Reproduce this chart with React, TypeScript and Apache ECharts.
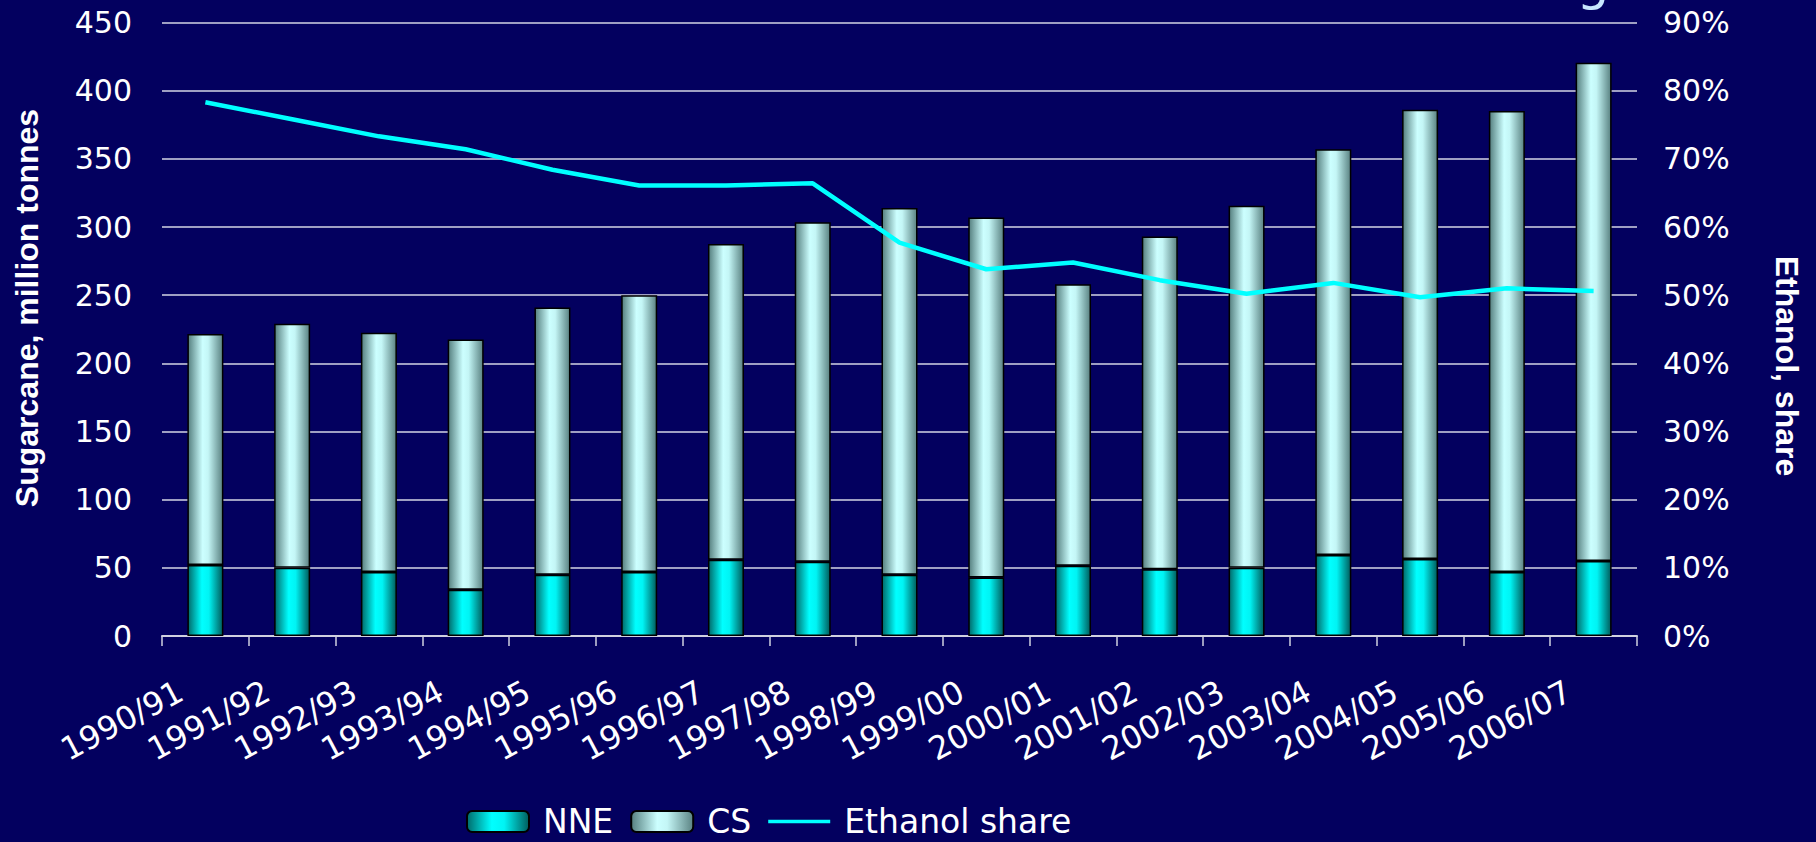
import React, { useEffect, useRef } from "react";
import * as echarts from "echarts";

const categories = [
  "1990/91", "1991/92", "1992/93", "1993/94", "1994/95", "1995/96", "1996/97", "1997/98", "1998/99",
  "1999/00", "2000/01", "2001/02", "2002/03", "2003/04", "2004/05", "2005/06", "2006/07",
];
const nneValues = [52, 50, 47, 34, 45, 47, 56, 54.5, 45, 43, 51.5, 49, 50, 59.5, 56.5, 47, 55];
const csValues = [169.5, 179, 175.5, 183.5, 196, 203, 231.5, 249, 269, 264, 206.5, 244, 265.5, 297.5, 329.5, 338, 365.5];
const ethanolShare = [78.3, 75.8, 73.3, 71.4, 68.4, 66.1, 66.1, 66.4, 57.7, 53.8, 54.8, 52.2, 50.2, 51.8, 49.7, 51.0, 50.6];

const leftTicks = { min: 0, max: 450, interval: 50 };
const rightTicks = { min: 0, max: 90, interval: 10 };

const BG = "#03005f";
const TICK_FONT = "'DejaVu Sans', Verdana, sans-serif";
const NAME_FONT = "bold 32px 'Liberation Sans', Arial, sans-serif";

export default function App() {
  const ref = useRef<HTMLDivElement>(null);
  useEffect(() => {
    if (!ref.current) return;
    const chart = echarts.init(ref.current, undefined, { renderer: "svg" });
    const nneGrad = new echarts.graphic.LinearGradient(0, 0, 1, 0, [
      { offset: 0, color: "#006a6a" },
      { offset: 0.4, color: "#00ffff" },
      { offset: 0.6, color: "#00f4f4" },
      { offset: 1, color: "#005c5c" },
    ]);
    const csGrad = new echarts.graphic.LinearGradient(0, 0, 1, 0, [
      { offset: 0, color: "#557f7f" },
      { offset: 0.42, color: "#ccffff" },
      { offset: 0.58, color: "#c4f6f6" },
      { offset: 1, color: "#5a8282" },
    ]);
    chart.setOption({
      animation: false,
      backgroundColor: BG,
      grid: { left: 162, right: 179, top: 22.5, bottom: 206, containLabel: false },
      legend: {
        left: 461,
        top: 800,
        itemWidth: 62,
        itemHeight: 21,
        itemGap: 17,
        textStyle: { color: "#ffffff", fontSize: 33, fontFamily: TICK_FONT, padding: [0, 0, 0, 9] },
        data: [
          { name: "NNE" },
          { name: "CS" },
          { name: "Ethanol share", icon: "path://M0,0 L68,0 L68,4 L0,4 Z", itemStyle: { color: "#00ffff", borderWidth: 0 } },
        ],
      },
      xAxis: {
        type: "category",
        data: categories,
        boundaryGap: true,
        axisLine: { show: true, lineStyle: { color: "#d0d0e0", width: 2 } },
        axisTick: { show: true, inside: false, length: 10, lineStyle: { color: "#d0d0e0", width: 1.5 } },
        axisLabel: {
          rotate: 28,
          margin: 40,
          color: "#ffffff",
          fontSize: 32,
          fontFamily: TICK_FONT,
          padding: [0, 28, 0, 0],
          interval: 0,
        },
        splitLine: { show: false },
      },
      yAxis: [
        {
          type: "value",
          ...leftTicks,
          axisLine: { show: false },
          axisTick: { show: false },
          axisLabel: { color: "#ffffff", fontSize: 30, fontFamily: TICK_FONT, margin: 30 },
          splitLine: { show: true, lineStyle: { color: "#d4d4e4", width: 1.5 } },
        },
        {
          type: "value",
          ...rightTicks,
          position: "right",
          axisLine: { show: false },
          axisTick: { show: false },
          axisLabel: { color: "#ffffff", fontSize: 30, fontFamily: TICK_FONT, margin: 26, formatter: "{value}%" },
          splitLine: { show: false },
        },
      ],
      series: [
        {
          name: "NNE",
          type: "bar",
          stack: "total",
          data: nneValues,
          barWidth: 36,
          itemStyle: { color: nneGrad, borderColor: "#000000", borderWidth: 1.5 },
        },
        {
          name: "CS",
          type: "bar",
          stack: "total",
          data: csValues,
          barWidth: 36,
          itemStyle: { color: csGrad, borderColor: "#000000", borderWidth: 1.5 },
        },
        {
          name: "Ethanol share",
          type: "line",
          yAxisIndex: 1,
          data: ethanolShare,
          symbol: "none",
          lineStyle: { color: "#00ffff", width: 4.5 },
          itemStyle: { color: "#00ffff" },
          z: 5,
        },
      ],
      graphic: [
        {
          type: "text",
          x: 27,
          y: 308,
          rotation: Math.PI / 2,
          style: {
            text: "Sugarcane, million tonnes",
            fill: "#ffffff",
            font: NAME_FONT,
            align: "center",
            verticalAlign: "middle",
          },
        },
        {
          type: "text",
          x: 1787,
          y: 366,
          rotation: -Math.PI / 2,
          style: {
            text: "Ethanol, share",
            fill: "#ffffff",
            font: NAME_FONT,
            align: "center",
            verticalAlign: "middle",
          },
        },
        {
          type: "text",
          x: 1593,
          y: -45,
          style: {
            text: "g",
            fill: "#c8e6ff",
            font: "52px 'DejaVu Sans', sans-serif",
            align: "center",
            verticalAlign: "top",
          },
        },
      ],
    });
    return () => chart.dispose();
  }, []);
  return (
    <div
      ref={ref}
      style={{ position: "fixed", left: 0, top: 0, width: 1816, height: 842, background: BG }}
    />
  );
}
